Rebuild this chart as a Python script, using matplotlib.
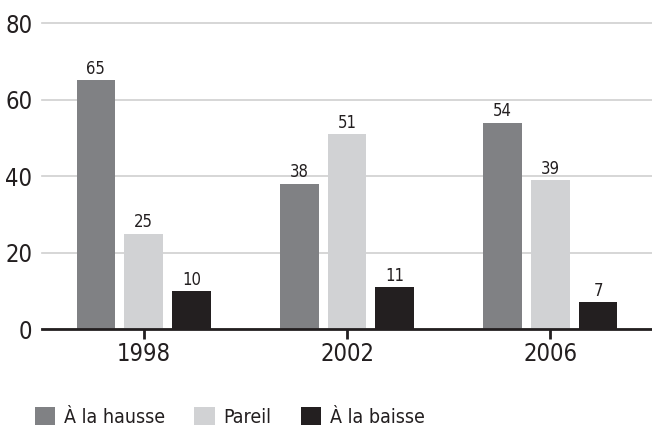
import matplotlib
matplotlib.use("Agg")
import matplotlib.pyplot as plt
from matplotlib import font_manager
import numpy as np

years = ["1998", "2002", "2006"]
series = ["À la hausse", "Pareil", "À la baisse"]
hausse = [65, 38, 54]
pareil = [25, 51, 39]
baisse = [10, 11, 7]
colors = ["#808184", "#d1d2d4", "#231f20"]

# narrow / condensed faces
fams = []
for f in font_manager.findSystemFonts():
    low = f.lower()
    if ("narrow" in low or "condensed" in low) and "oblique" not in low and "italic" not in low:
        font_manager.fontManager.addfont(f)
        if "bold" not in low:
            fams.append((("liberation" not in low), f))
fams.sort()
if fams:
    fam = font_manager.FontProperties(fname=fams[0][1]).get_name()
    plt.rcParams['font.family'] = [fam, 'DejaVu Sans']
    plt.rcParams['font.stretch'] = 'condensed'

ink = '#231f20'
fig = plt.figure(figsize=(6.52, 4.28), dpi=100)
ax = fig.add_axes([42/652, 0.231, 1 - 42/652, 0.946 - 0.231])

x = np.arange(len(years))
w = 0.19
step = 0.235
for i, (vals, c, lab) in enumerate(zip([hausse, pareil, baisse], colors, series)):
    bars = ax.bar(x + (i - 1) * step, vals, width=w, color=c, label=lab, zorder=3)
    for b, v in zip(bars, vals):
        ax.text(b.get_x() + b.get_width() / 2, v + 0.6, str(v), ha='center', va='bottom',
                fontsize=12, color=ink)

ax.set_xlim(-0.5, 2.5)
ax.set_ylim(0, 80)
ax.set_yticks([0, 20, 40, 60, 80])
ax.yaxis.grid(True, color='#cfcfcf', linewidth=1.2, zorder=0)
for gl in ax.get_ygridlines():
    gl.set_clip_on(False)
ax.set_axisbelow(True)
for s in ['top', 'right', 'left']:
    ax.spines[s].set_visible(False)
ax.spines['bottom'].set_linewidth(2)
ax.spines['bottom'].set_color(ink)
ax.spines['bottom'].set_zorder(4)
ax.set_xticks(x)
ax.set_xticklabels(years)
ax.tick_params(axis='x', length=7, width=2, color=ink, labelsize=17, pad=2, labelcolor=ink)
ax.tick_params(axis='y', length=0, labelsize=17, pad=7, labelcolor=ink)

leg = fig.legend(loc='lower left', bbox_to_anchor=(35/652, 1/428), ncol=3, frameon=False,
                 fontsize=14, handlelength=1.05, handleheight=1.05, handletextpad=0.45,
                 columnspacing=1.5, borderpad=0, borderaxespad=0, labelcolor=ink)

fig.savefig("out.png", dpi=100)
